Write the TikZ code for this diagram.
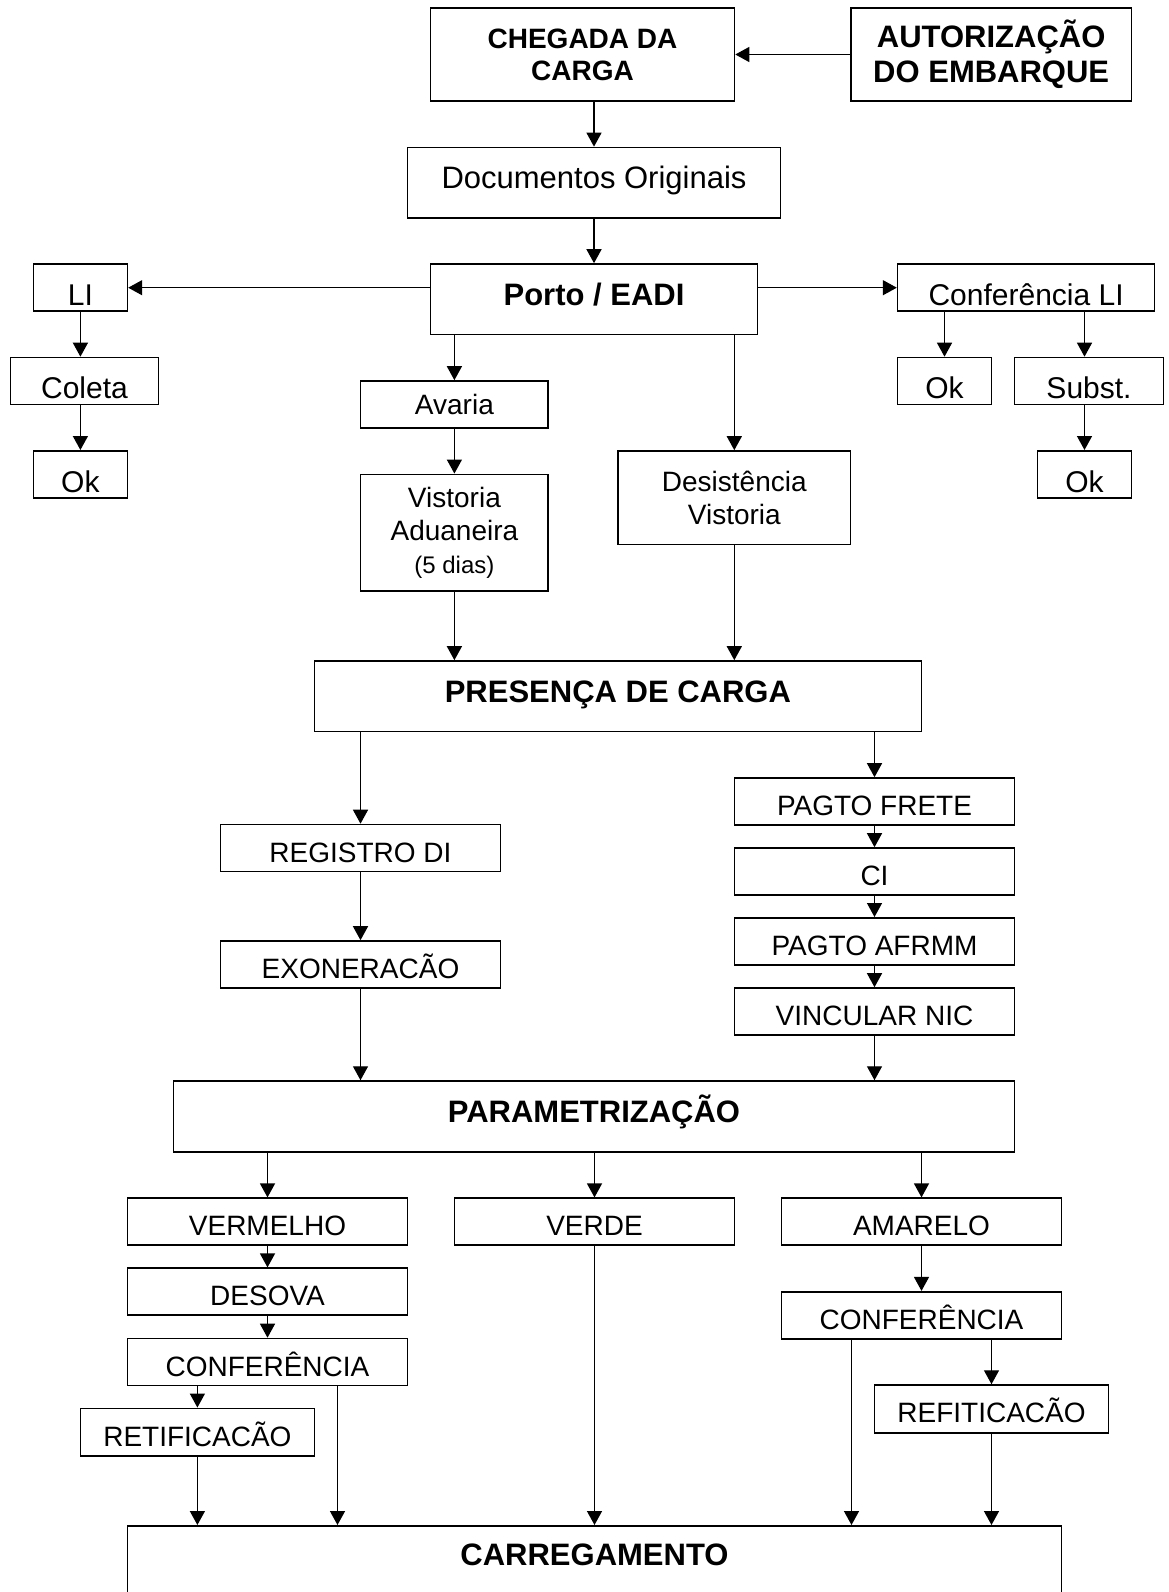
\documentclass[tikz,border=0pt]{standalone}
\usepackage{fontspec}
\setmainfont{Liberation Sans}
\usetikzlibrary{arrows.meta}

\begin{document}
\begin{tikzpicture}[x=1pt, y=-1pt,
  box/.style={draw, line width=1.6pt, inner sep=0pt, align=center,
    font=\fontsize{28}{33}\selectfont},
  head/.style={box, font=\fontsize{31}{35}\selectfont\bfseries},
  title/.style={head, text height=22pt, text depth=10pt},
  rowbox/.style={box, minimum width=280pt, minimum height=47pt,
    text height=28pt, text depth=0pt},
  fixbox/.style={rowbox, minimum width=234pt, minimum height=47.7pt},
  okbox/.style={box, minimum width=94pt, minimum height=47pt,
    font=\fontsize{30}{34}\selectfont, text height=35.5pt, text depth=0pt},
  subbox/.style={okbox, minimum width=149pt},
  arrow/.style={-{Triangle[length=14pt, width=15pt]}, line width=1.4pt}]
  \useasboundingbox (0,0) rectangle (1168,1592);

  % top
  \node[head, minimum width=304pt, minimum height=93pt,
    font=\fontsize{28}{32}\selectfont\bfseries] (chegada) at (582.5,54.5) {CHEGADA DA\\CARGA};
  \node[head, minimum width=280.5pt, minimum height=93pt] (autoriz) at (991.2,54.5)
    {AUTORIZAÇÃO\\DO EMBARQUE};
  \node[title, minimum width=373pt, minimum height=70.5pt,
    font=\fontsize{31}{35}\selectfont] (docs) at (594,182.7) {Documentos Originais};
  \node[title, minimum width=327pt, minimum height=70.6pt] (porto) at (594,299.3) {Porto / EADI};

  % LI side
  \node[okbox] (li) at (80.4,287.7) {LI};
  \node[subbox, minimum width=148.3pt] (coleta) at (84.5,381) {Coleta};
  \node[okbox] (okli) at (80.4,474.3) {Ok};

  % middle
  \node[box, minimum width=187.7pt, minimum height=47pt] (avaria) at (454.4,404.5) {Avaria};
  \node[box, minimum width=187.7pt, minimum height=116.7pt] (vistoria) at (454.4,532.7)
    {Vistoria\\Aduaneira\\{\fontsize{24}{28}\selectfont (5 dias)}};
  \node[box, minimum width=232.6pt, minimum height=93.6pt] (desist) at (734.3,497.8)
    {Desistência\\Vistoria};

  % conferencia LI side
  \node[subbox, minimum width=257pt] (confli) at (1026.1,287.7) {Conferência LI};
  \node[okbox] (okconf) at (944.5,381) {Ok};
  \node[subbox] (subst) at (1089,381) {Subst.};
  \node[okbox] (oksubst) at (1084.5,474.3) {Ok};

  \node[title, minimum width=607pt, minimum height=70.4pt] (presenca) at (617.9,696.2)
    {PRESENÇA DE CARGA};
  \node[rowbox] (registro) at (360.5,848) {REGISTRO DI};
  \node[rowbox] (exoner) at (360.5,964.5) {EXONERACÃO};
  \node[rowbox] (frete) at (874.5,801.5) {PAGTO FRETE};
  \node[rowbox] (ci) at (874.5,871.5) {CI};
  \node[rowbox] (afrmm) at (874.5,941.3) {PAGTO AFRMM};
  \node[rowbox] (nic) at (874.5,1011.5) {VINCULAR NIC};

  \node[title, minimum width=841pt, minimum height=70.7pt] (param) at (594,1116.4)
    {PARAMETRIZAÇÃO};
  \node[rowbox] (vermelho) at (267.5,1221.7) {VERMELHO};
  \node[rowbox] (verde) at (594.5,1221.7) {VERDE};
  \node[rowbox] (amarelo) at (921.5,1221.7) {AMARELO};
  \node[rowbox] (desova) at (267.5,1291.7) {DESOVA};
  \node[rowbox] (conf) at (267.5,1362) {CONFERÊNCIA};
  \node[fixbox] (retif) at (197.4,1432.2) {RETIFICACÃO};
  \node[rowbox] (conf2) at (921.5,1315.2) {CONFERÊNCIA};
  \node[fixbox] (refit) at (991.5,1408.9) {REFITICACÃO};
  \node[head, anchor=north, minimum width=934pt, text height=40pt, text depth=100pt]
    (carreg) at (594.5,1525) {CARREGAMENTO};

  % connectors
  \draw[arrow] (autoriz.west) -- (chegada.east);
  \draw[arrow] (chegada.south -| docs) -- (docs.north);
  \draw[arrow] (docs) -- (porto);
  \draw[arrow] (porto.west |- li) -- (li.east);
  \draw[arrow] (porto.east |- confli) -- (confli.west);
  \draw[arrow] (li.south) -- (li.south |- coleta.north);
  \draw[arrow] (coleta.south -| okli) -- (okli.north);
  \draw[arrow] (porto.south -| avaria) -- (avaria.north);
  \draw[arrow] (avaria) -- (vistoria);
  \draw[arrow] (porto.south -| desist) -- (desist.north);
  \draw[arrow] (confli.south -| okconf) -- (okconf.north);
  \draw[arrow] (confli.south -| oksubst) -- (subst.north -| oksubst);
  \draw[arrow] (subst.south -| oksubst) -- (oksubst.north);
  \draw[arrow] (vistoria.south) -- (vistoria.south |- presenca.north);
  \draw[arrow] (desist.south) -- (desist.south |- presenca.north);
  \draw[arrow] (presenca.south -| registro) -- (registro.north);
  \draw[arrow] (presenca.south -| frete) -- (frete.north);
  \draw[arrow] (registro) -- (exoner);
  \draw[arrow] (frete) -- (ci);
  \draw[arrow] (ci) -- (afrmm);
  \draw[arrow] (afrmm) -- (nic);
  \draw[arrow] (exoner.south) -- (exoner.south |- param.north);
  \draw[arrow] (nic.south) -- (nic.south |- param.north);
  \draw[arrow] (param.south -| vermelho) -- (vermelho.north);
  \draw[arrow] (param.south -| verde) -- (verde.north);
  \draw[arrow] (param.south -| amarelo) -- (amarelo.north);
  \draw[arrow] (vermelho) -- (desova);
  \draw[arrow] (desova) -- (conf);
  \draw[arrow] (conf.south -| retif) -- (retif.north);
  \draw[arrow] ([xshift=70pt]conf.south) -- ([xshift=70pt]conf.south |- carreg.north);
  \draw[arrow] (retif.south) -- (retif.south |- carreg.north);
  \draw[arrow] (verde.south) -- (verde.south |- carreg.north);
  \draw[arrow] (amarelo) -- (conf2);
  \draw[arrow] ([xshift=-70pt]conf2.south) -- ([xshift=-70pt]conf2.south |- carreg.north);
  \draw[arrow] (conf2.south -| refit) -- (refit.north);
  \draw[arrow] (refit.south) -- (refit.south |- carreg.north);
\end{tikzpicture}
\end{document}
